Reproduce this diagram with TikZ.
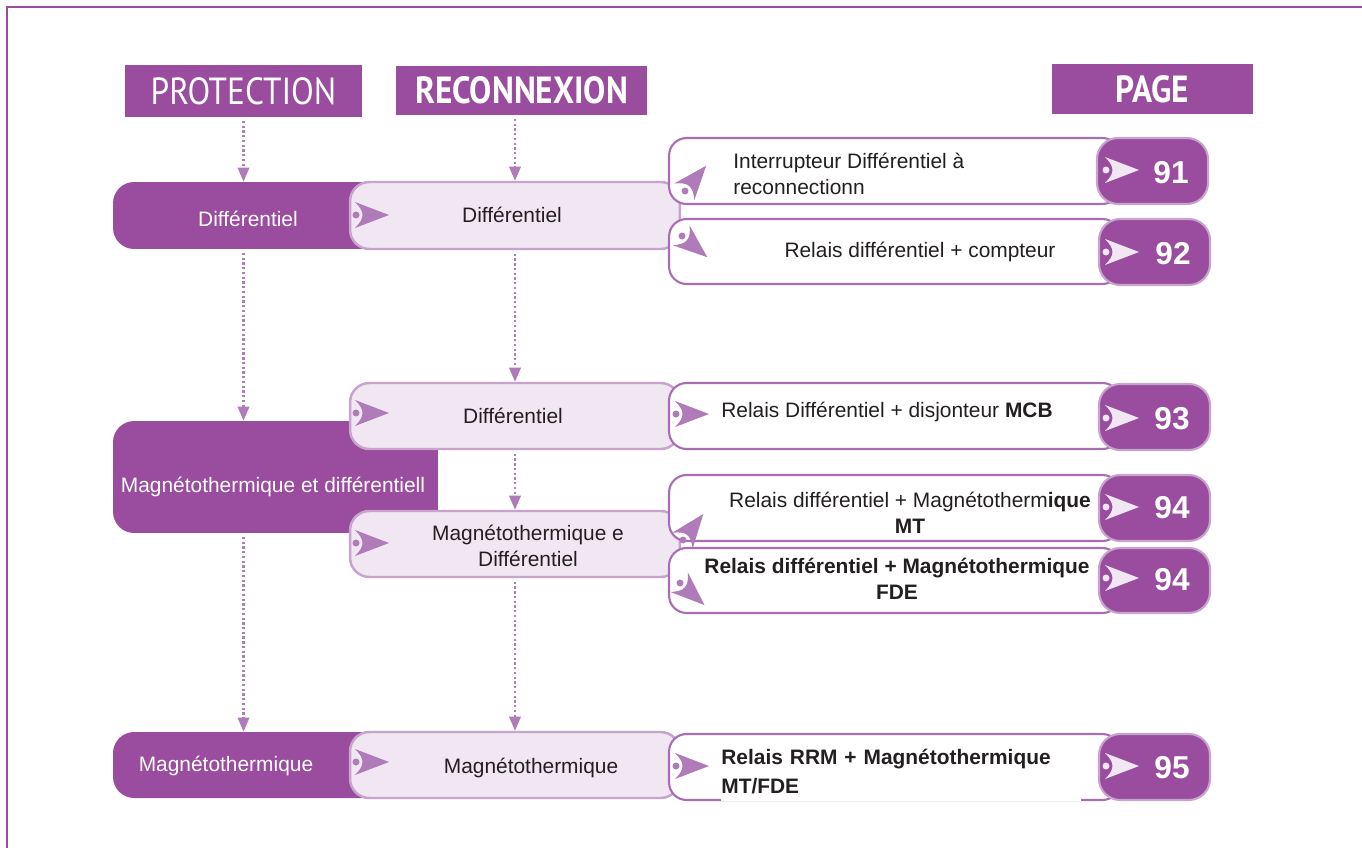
\documentclass[tikz,border=0pt]{standalone}
\usepackage{fontspec}
\setmainfont{Liberation Sans}
\newfontfamily\titrefont[FakeStretch=0.88]{PT Sans}
\usetikzlibrary{arrows.meta}

\definecolor{mauve}{HTML}{9A4D9E}
\definecolor{lilas}{HTML}{F0E7F3}
\definecolor{lilasbord}{HTML}{C9A3CF}
\definecolor{bordblanc}{HTML}{A86EB2}
\definecolor{pointe}{HTML}{B07BB9}
\definecolor{encre}{HTML}{231F20}

\tikzset{
  entete/.style={fill=mauve,text=white,inner sep=0pt,
    font=\titrefont\fontsize{21.5}{24}\selectfont},
  fonce/.style={fill=mauve,rounded corners=12pt,inner sep=0pt},
  clair/.style={fill=lilas,draw=lilasbord,line width=1.4pt,
    rounded corners=11pt,inner sep=0pt},
  blanc/.style={fill=white,draw=bordblanc,line width=1.2pt,
    rounded corners=10pt,inner sep=0pt},
  numero/.style={fill=mauve,draw=lilasbord,line width=1.2pt,
    rounded corners=12pt,inner sep=0pt},
  libelle/.style={text=encre,align=center,inner sep=0pt,
    font=\fontsize{11.9}{14.7}\selectfont},
  numtexte/.style={text=white,inner sep=0pt,
    font=\fontsize{18}{20}\selectfont\bfseries},
  pointille/.style={draw=pointe,line width=1.3pt,
    dash pattern=on 1.3pt off 1.4pt,
    -{Triangle[width=6.5pt,length=8pt]},shorten <=2pt},
  dart/.pic={
    \fill[#1] (33,0) -- (-1,-13) .. controls (9,-3) and (9,3) .. (-1,13) -- cycle;
    \fill[#1] (0,0) circle[radius=0.07cm];
  }
}

\begin{document}
\begin{tikzpicture}[x=0.02cm,y=-0.02cm]

\useasboundingbox (0,0) rectangle (1362,848);

% Cadre
\draw[mauve,line width=1.1pt]
(1362,7) -- (7,7) -- (7,848);

% En-tetes
\node[entete,minimum width=4.74cm,minimum height=1.04cm]
(protH)
at (243.5,91)
{PROTECTION};

\node[entete,minimum width=5.02cm,minimum height=0.98cm,
  font=\titrefont\bfseries\fontsize{21.5}{24}\selectfont]
(recH)
at (521.5,90.5)
{RECONNEXION};

\node[entete,minimum width=4.02cm,minimum height=1cm,
  font=\titrefont\bfseries\fontsize{21.5}{24}\selectfont]
(pageH)
at (1152.5,89)
{PAGE};

% Protection
\node[fonce,minimum width=6.14cm,minimum height=1.34cm]
(difP)
at (266.5,215.5)
{};

\node[fonce,minimum width=6.5cm,minimum height=2.24cm]
(mtdP)
at (275.5,477)
{};

\node[fonce,minimum width=6.14cm,minimum height=1.32cm]
(mtP)
at (266.5,765)
{};

% Reconnexion
\node[clair,minimum width=6.6cm,minimum height=1.34cm]
(difR)
at (515,215.5)
{};

\node[clair,minimum width=6.6cm,minimum height=1.32cm]
(difR2)
at (515,416)
{};

\node[clair,minimum width=6.6cm,minimum height=1.32cm]
(mtdR)
at (515,544)
{};

\node[clair,minimum width=6.6cm,minimum height=1.32cm]
(mtR)
at (515,765)
{};

% Produits
\node[blanc,minimum width=9.02cm,minimum height=1.32cm]
(d91)
at (894.5,171)
{};

\node[blanc,minimum width=9.02cm,minimum height=1.3cm]
(d92)
at (894.5,251.5)
{};

\node[blanc,minimum width=9.02cm,minimum height=1.32cm]
(d93)
at (894.5,416)
{};

\node[blanc,minimum width=9.02cm,minimum height=1.32cm]
(d94a)
at (894.5,508)
{};

\node[blanc,minimum width=9.02cm,minimum height=1.3cm]
(d94b)
at (894.5,580.5)
{};

\node[blanc,minimum width=9.02cm,minimum height=1.32cm]
(d95)
at (894.5,767)
{};

% Pages
\node[numero,minimum width=2.22cm,minimum height=1.32cm]
(p91)
at (1152.5,171)
{};

\node[numero,minimum width=2.22cm,minimum height=1.32cm]
(p92)
at (1154.5,252)
{};

\node[numero,minimum width=2.22cm,minimum height=1.32cm]
(p93)
at (1154.5,417)
{};

\node[numero,minimum width=2.22cm,minimum height=1.32cm]
(p94a)
at (1154.5,508)
{};

\node[numero,minimum width=2.22cm,minimum height=1.3cm]
(p94b)
at (1154.5,580.5)
{};

\node[numero,minimum width=2.22cm,minimum height=1.32cm]
(p95)
at (1154.5,767)
{};

% Fleches
\pic at (356,215) {dart=pointe};
\pic at (356,413) {dart=pointe};
\pic at (356,543) {dart=pointe};
\pic at (356,762) {dart=pointe};

\pic[rotate=50] at (685,191) {dart=pointe};
\pic[rotate=-40] at (682,236) {dart=pointe};
\pic at (676,414) {dart=pointe};
\pic[rotate=52] at (683,540) {dart=pointe};
\pic[rotate=-42] at (680,583) {dart=pointe};
\pic at (676,766) {dart=pointe};

\pic at (1106,170) {dart=lilas};
\pic at (1106,252) {dart=lilas};
\pic at (1106,418) {dart=lilas};
\pic at (1106,507) {dart=lilas};
\pic at (1106,578) {dart=lilas};
\pic at (1106,766) {dart=lilas};

% Textes
\node[libelle,text=white]
(tDifP)
at (248,219)
{Différentiel};

\node[libelle,text=white]
(tMtdP)
at (273,487)
{Magnétothermique et différentiell};

\node[libelle,text=white]
(tMtP)
at (226,766)
{Magnétothermique};

\node[libelle]
(tDifR)
at (512,215)
{Différentiel};

\node[libelle]
(tDifR2)
at (513,416)
{Différentiel};

\node[libelle]
(tMtdR)
at (528,546)
{Magnétothermique e\\Différentiel};

\node[libelle]
(tMtR)
at (531,768)
{Magnétothermique};

\node[libelle,align=left,anchor=west]
(t91)
at (733,174)
{Interrupteur Différentiel à\\reconnectionn};

\node[libelle]
(t92)
at (920,252)
{Relais différentiel + compteur};

\node[libelle]
(t93)
at (887,412)
{Relais Différentiel + disjonteur \textbf{MCB}};

\node[libelle]
(t94a)
at (910,513)
{Relais différentiel + Magnétotherm\textbf{ique}\\\textbf{MT}};

\node[libelle,font=\fontsize{11.9}{14.7}\selectfont\bfseries]
(t94b)
at (897,579)
{Relais différentiel + Magnétothermique\\FDE};

\node[libelle,font=\fontsize{11.9}{16.4}\selectfont\bfseries,
  align=left,anchor=west,fill=white,text width=7.2cm,inner ysep=4pt]
(t95)
at (721,771.5)
{Relais RRM + Magnétothermique\\MT/FDE};

% Numeros
\node[numtexte] (n91) at (1171,173) {91};
\node[numtexte] (n92) at (1173,254) {92};
\node[numtexte] (n93) at (1172,419) {93};
\node[numtexte] (n94a) at (1172,508) {94};
\node[numtexte] (n94b) at (1172,580) {94};
\node[numtexte] (n95) at (1172,768) {95};

% Liaisons
\draw[pointille]
(protH.south) -- (protH.south |- difP.north);

\draw[pointille]
(recH.south -| difR.north) -- (difR.north);

\draw[pointille]
(difP.south -| protH.south) -- (mtdP.north -| protH.south);

\draw[pointille]
(difR.south) -- (difR2.north);

\draw[pointille]
(difR2.south) -- (mtdR.north);

\draw[pointille]
(mtdP.south -| protH.south) -- (mtP.north -| protH.south);

\draw[pointille]
(mtdR.south) -- (mtR.north);

\end{tikzpicture}
\end{document}
